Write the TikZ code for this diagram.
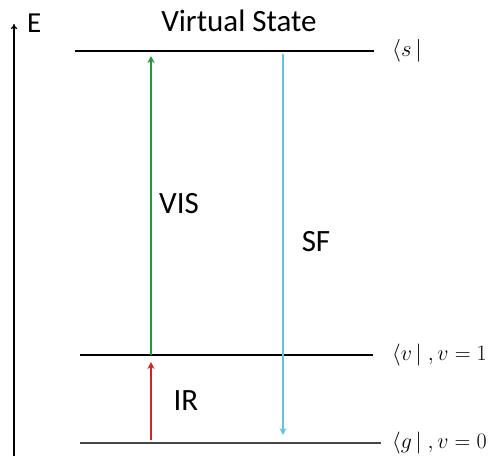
\documentclass[tikz,border=0pt]{standalone}
\usepackage{fontspec}
\setmainfont{Carlito}
\usetikzlibrary{arrows.meta}
\definecolor{visgreen}{RGB}{40,150,60}
\definecolor{irred}{RGB}{200,40,40}
\definecolor{sfcyan}{RGB}{100,195,225}
\definecolor{gline}{RGB}{70,70,70}
\tikzset{
  level/.style={line width=1.6pt, black},
  trans/.style={line width=1.2pt, -{Stealth[length=7pt,width=7pt]}},
  lbl/.style={inner sep=0pt, font=\fontsize{31}{34}\selectfont},
  mlbl/.style={inner sep=0pt, anchor=west, font=\fontsize{22}{26}\selectfont},
}
\begin{document}
\begin{tikzpicture}[x=1pt,y=-1pt]
\useasboundingbox (0,0) rectangle (488,456);
% axis
\coordinate (ax0) at (14,456);
\coordinate (ax1) at (14,24);
\draw[line width=1.3pt, -{To[length=5pt,width=6pt]}] (ax0) -- (ax1);
\node[lbl, anchor=west, font=\fontsize{29}{32}\selectfont] (E) at (27,23) {E};
% levels
\coordinate (s0) at (75,51); \coordinate (s1) at (374,51);
\coordinate (v0) at (80,355); \coordinate (v1) at (373,355);
\coordinate (g0) at (80,443); \coordinate (g1) at (381,443);
\draw[level] (s0) -- (s1);
\draw[level] (v0) -- (v1);
\draw[line width=2.2pt, gline] (g0) -- (g1);
\node[lbl] (vs) at (239,21) {Virtual State};
% transitions
\coordinate (vis0) at (151,355); \coordinate (vis1) at (151,56);
\coordinate (ir0) at (151,440); \coordinate (ir1) at (151,362);
\coordinate (sf0) at (283,54); \coordinate (sf1) at (283,435);
\draw[trans, visgreen] (vis0) -- (vis1);
\draw[trans, irred] (ir0) -- (ir1);
\draw[trans, sfcyan] (sf0) -- (sf1);
\node[lbl] (VIS) at (179,204) {VIS};
\node[lbl] (SF) at (316,242) {SF};
\node[lbl] (IR) at (186,401) {IR};
% state labels
\node[mlbl] (ls) at (392,51) {\scalebox{1.1}{$\langle s\,|$}};
\node[mlbl] (lv) at (392,355) {\scalebox{1.06}{$\langle v\,|\;,v=1$}};
\node[mlbl] (lg) at (392,443) {\scalebox{1.06}{$\langle g\,|\;,v=0$}};
\end{tikzpicture}
\end{document}
